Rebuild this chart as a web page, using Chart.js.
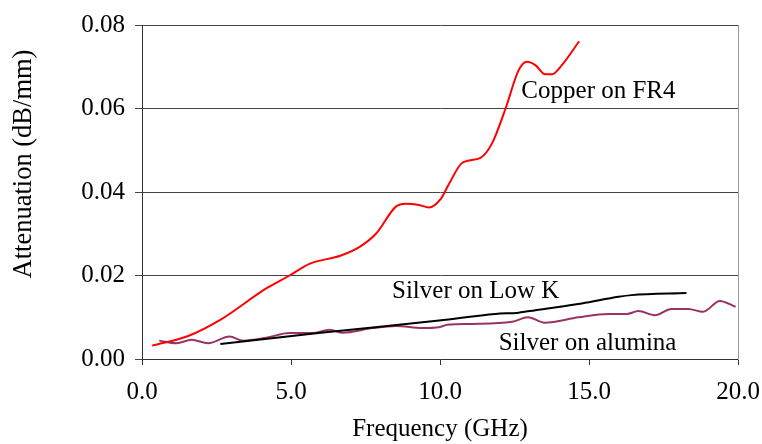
<!DOCTYPE html>
<html>
<head>
<meta charset="utf-8">
<script src="https://cdn.jsdelivr.net/npm/chart.js@4.4.1/dist/chart.umd.min.js"></script>
<style>
  html, body { margin: 0; padding: 0; background: #fff; }
  #wrap { width: 762px; height: 444px; }
</style>
</head>
<body>
<div id="wrap"><canvas id="chart"></canvas></div>
<script>
const copperFreq = [0.34, 1.55, 2.61, 4.17, 4.95, 5.62, 6.68, 7.29, 7.85, 8.52, 8.85, 9.30, 9.63, 10.02, 10.3, 10.75, 11.36, 11.75, 12.20, 12.64, 12.92, 13.2, 13.53, 13.76, 14.09, 14.67];
const copperAtten = [0.0032, 0.0055, 0.0093, 0.0169, 0.0200, 0.0228, 0.0248, 0.0268, 0.0300, 0.0365, 0.0372, 0.0369, 0.0363, 0.0383, 0.0419, 0.0470, 0.0482, 0.0517, 0.0600, 0.0692, 0.0712, 0.0704, 0.0682, 0.0682, 0.0704, 0.0761];

const lowKFreq = [2.63, 6.0, 9.97, 11.86, 12.64, 13.2, 14.76, 15.99, 16.43, 18.27];
const lowKAtten = [0.0036, 0.0063, 0.0092, 0.0108, 0.0111, 0.0117, 0.0133, 0.0149, 0.0153, 0.0158];

const aluminaFreq = [0.58, 1.16, 1.66, 2.22, 2.94, 3.39, 4.17, 4.95, 5.73, 6.29, 6.73, 7.74, 8.52, 9.41, 9.97, 10.25, 11.08, 12.42, 12.95, 13.51, 14.65, 15.65, 16.27, 16.66, 17.21, 17.77, 18.33, 18.83, 19.39, 19.92];
const aluminaAtten = [0.0044, 0.0038, 0.0046, 0.0038, 0.0054, 0.0044, 0.0051, 0.0062, 0.0062, 0.0070, 0.0063, 0.0074, 0.0079, 0.0074, 0.0076, 0.0082, 0.0084, 0.0089, 0.0100, 0.0087, 0.0100, 0.0108, 0.0108, 0.0115, 0.0105, 0.0120, 0.0120, 0.0113, 0.0139, 0.0125];

const xTicks = [0, 5, 10, 15, 20];
const yTicks = [0, 0.02, 0.04, 0.06, 0.08];

const seriesLabels = [
  { text: "Copper on FR4", x: 12.73, y: 0.0625 },
  { text: "Silver on Low K", x: 8.39, y: 0.0146 },
  { text: "Silver on alumina", x: 11.97, y: 0.0022 }
];
const yTitle = "Attenuation (dB/mm)";

const FONT = "'Liberation Serif', 'Times New Roman', serif";

function pts(xs, ys) {
  return xs.map((x, i) => ({ x: x, y: ys[i] }));
}

// series names inside the plot, plus the y title (sits above centre in the original)
const labelPlugin = {
  id: "seriesText",
  afterDatasetsDraw(chart) {
    const ctx = chart.ctx;
    const sx = chart.scales.x, sy = chart.scales.y;
    ctx.save();
    ctx.font = "25px " + FONT;
    ctx.fillStyle = "#000";
    ctx.textAlign = "left";
    ctx.textBaseline = "alphabetic";
    seriesLabels.forEach(l => {
      ctx.fillText(l.text, sx.getPixelForValue(l.x), sy.getPixelForValue(l.y));
    });

    ctx.translate(24, 164);
    ctx.rotate(-Math.PI / 2);
    ctx.font = "26.5px " + FONT;
    ctx.textAlign = "center";
    ctx.textBaseline = "middle";
    ctx.fillText(yTitle, 0, 0);
    ctx.restore();
  }
};

new Chart(document.getElementById("chart").getContext("2d"), {
  type: "line",
  data: {
    datasets: [
      { label: "Copper on FR4", data: pts(copperFreq, copperAtten), borderColor: "#ff0000" },
      { label: "Silver on Low K", data: pts(lowKFreq, lowKAtten), borderColor: "#000000" },
      { label: "Silver on alumina", data: pts(aluminaFreq, aluminaAtten), borderColor: "#993366" }
    ]
  },
  options: {
    responsive: true,
    maintainAspectRatio: false,
    animation: false,
    layout: { padding: { left: 0, top: 23, right: 24, bottom: 0 } },
    elements: {
      point: { radius: 0 },
      line: { borderWidth: 2, cubicInterpolationMode: "monotone", fill: false }
    },
    plugins: { legend: { display: false }, tooltip: { enabled: false } },
    scales: {
      x: {
        type: "linear",
        min: 0, max: 20,
        afterBuildTicks: s => { s.ticks = xTicks.map(v => ({ value: v })); },
        afterFit: s => { s.height = 85; s.paddingLeft = 0; s.paddingRight = 0; },
        ticks: {
          color: "#000",
          font: { family: FONT, size: 25 },
          padding: 12,
          maxRotation: 0,
          callback: v => v.toFixed(1)
        },
        grid: { drawOnChartArea: false, drawTicks: true, tickLength: 6, color: "#333" },
        border: { color: "#333", width: 1 },
        title: {
          display: true,
          text: "Frequency (GHz)",
          color: "#000",
          font: { family: FONT, size: 25 },
          padding: { top: 0, bottom: 0 }
        }
      },
      y: {
        min: 0, max: 0.08,
        afterBuildTicks: s => { s.ticks = yTicks.map(v => ({ value: v })); },
        afterFit: s => { s.width = 142; },
        ticks: {
          color: "#000",
          font: { family: FONT, size: 25 },
          padding: 10,
          callback: v => v.toFixed(2)
        },
        grid: { color: "#444", tickLength: 7, lineWidth: 1 },
        border: { color: "#333", width: 1 },
        title: { display: false }
      },
      y2: {
        position: "right",
        min: 0, max: 0.08,
        afterFit: s => { s.width = 0; },
        ticks: { display: false },
        grid: { drawOnChartArea: false, drawTicks: false },
        border: { display: true, color: "#999", width: 1 }
      }
    }
  },
  plugins: [labelPlugin]
});
</script>
</body>
</html>
